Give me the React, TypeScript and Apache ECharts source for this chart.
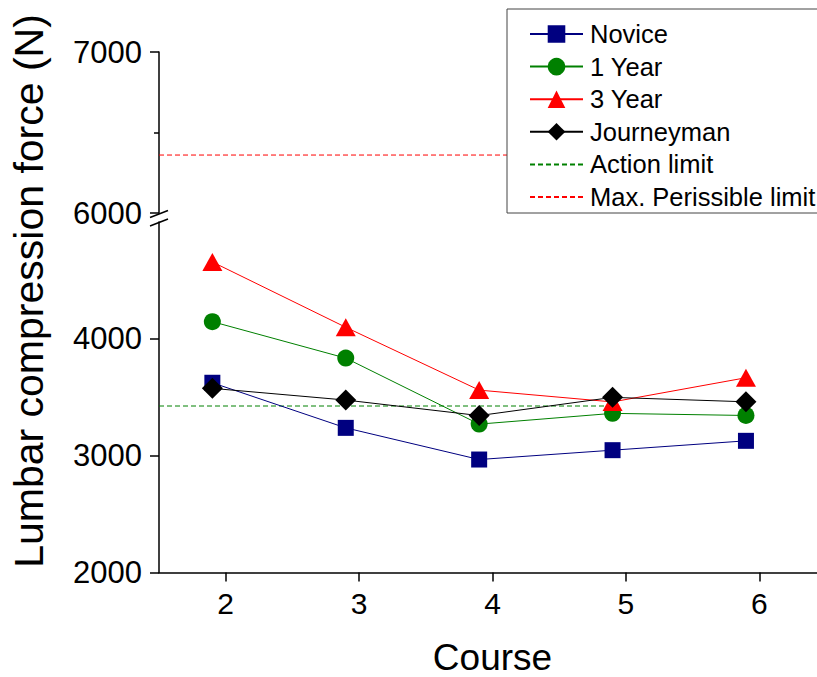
import React, { useEffect, useRef } from "react";
import * as echarts from "echarts";

// Course numbers on the x axis, and the x positions where the means are plotted
const courses = [2, 3, 4, 5, 6];
const pointCourse = [1.9, 2.9, 3.9, 4.9, 5.9];

// Mean lumbar compression force (N) per group
const novice = [3624, 3238, 2967, 3047, 3127];
const oneYear = [4147, 3835, 3270, 3362, 3344];
const threeYear = [4658, 4099, 3561, 3460, 3667];
const journeyman = [3576, 3476, 3343, 3499, 3461];

// Reference limits (N) and the x span each line covers
const actionLimit = 3425;
const actionSpan = [1.5, 4.95];
const maxPermissibleLimit = 6360;
const maxSpan = [1.5, 6.5];

// Axis ranges for the broken y axis
const lowerRange = [2000, 5000];
const lowerTicks = [2000, 3000, 4000];
const upperRange = [6000, 7000];

const FONT = "'Liberation Sans', Arial, sans-serif";

const pairs = (xs: number[], ys: number[]) => xs.map((x, i) => [x, ys[i]]);

export default function App() {
  const ref = useRef<HTMLDivElement>(null);

  useEffect(() => {
    if (!ref.current) return;
    const chart = echarts.init(ref.current, null, { renderer: "svg" });

    const gridLeft = 159;
    const gridWidth = 667;
    const upperTop = 52;
    const upperHeight = 161;
    const lowerTop = 222;
    const lowerHeight = 350.5;

    const markerSeries = (
      name: string,
      values: number[],
      color: string,
      symbol: string,
      symbolSize: number | number[]
    ) => ({
      name,
      type: "line",
      xAxisIndex: 1,
      yAxisIndex: 1,
      data: pairs(pointCourse, values),
      symbol,
      symbolSize,
      showAllSymbol: true,
      lineStyle: { color, width: 1 },
      itemStyle: { color, borderWidth: 0 },
      emphasis: { disabled: true },
    });

    const yAxisCommon = {
      type: "value",
      splitLine: { show: false },
      axisLine: { show: true, onZero: false, lineStyle: { color: "#000", width: 1.5 } },
      axisTick: { show: true, length: 9, lineStyle: { color: "#000", width: 1.5 } },
      axisLabel: {
        color: "#000",
        fontSize: 31,
        fontFamily: FONT,
        margin: 17,
        formatter: (v: number) => String(v),
      },
    };

    chart.setOption({
      animation: false,
      backgroundColor: "#fff",
      grid: [
        {
          left: gridLeft,
          width: gridWidth,
          top: upperTop,
          height: upperHeight,
          containLabel: false,
          outerBoundsMode: "none",
        },
        {
          left: gridLeft,
          width: gridWidth,
          top: lowerTop,
          height: lowerHeight,
          containLabel: false,
          outerBoundsMode: "none",
        },
      ],
      xAxis: [
        { type: "value", gridIndex: 0, min: 1.5, max: 6.5, show: false },
        {
          type: "value",
          gridIndex: 1,
          min: 1.5,
          max: 6.5,
          name: "Course",
          nameLocation: "middle",
          nameGap: 66,
          nameTextStyle: { fontSize: 37, fontFamily: FONT, color: "#000" },
          splitLine: { show: false },
          axisLine: { show: true, onZero: false, lineStyle: { color: "#000", width: 1.5 } },
          axisTick: {
            show: true,
            length: 9,
            customValues: courses,
            lineStyle: { color: "#000", width: 1.5 },
          },
          axisLabel: {
            customValues: courses,
            color: "#000",
            fontSize: 30,
            fontFamily: FONT,
            margin: 16,
          },
        },
      ],
      yAxis: [
        {
          ...yAxisCommon,
          gridIndex: 0,
          min: upperRange[0],
          max: upperRange[1],
          interval: 1000,
          minorTick: { show: true, splitNumber: 2, length: 5, lineStyle: { color: "#000", width: 1.5 } },
        },
        {
          ...yAxisCommon,
          gridIndex: 1,
          min: lowerRange[0],
          max: lowerRange[1],
          interval: 1000,
          axisTick: { ...yAxisCommon.axisTick, customValues: lowerTicks },
          axisLabel: { ...yAxisCommon.axisLabel, customValues: lowerTicks },
        },
      ],
      legend: {
        orient: "vertical",
        left: 507,
        top: 9,
        padding: [12, 30, 3, 22],
        itemWidth: 53,
        itemHeight: 22,
        itemGap: 6.6,
        backgroundColor: "#fff",
        borderColor: "#444",
        borderWidth: 1,
        borderRadius: 0,
        selectedMode: false,
        textStyle: {
          fontSize: 25.5,
          fontFamily: FONT,
          color: "#000",
          lineHeight: 22,
          padding: [0, 0, 0, 2],
        },
        data: [
          { name: "Novice" },
          { name: "1 Year" },
          { name: "3 Year" },
          { name: "Journeyman" },
          { name: "Action limit", itemStyle: { opacity: 0 } },
          { name: "Max. Perissible limit", itemStyle: { opacity: 0 } },
        ],
      },
      graphic: [
        {
          type: "text",
          x: 29,
          y: 291,
          rotation: Math.PI / 2,
          style: {
            text: "Lumbar compression force (N)",
            fontSize: 41,
            fontFamily: FONT,
            fill: "#000",
            textAlign: "center",
            textVerticalAlign: "middle",
            align: "center",
            verticalAlign: "middle",
          },
        },
        {
          type: "line",
          shape: { x1: 150, y1: 217.5, x2: 168, y2: 210.5 },
          style: { stroke: "#000", lineWidth: 1.5 },
        },
        {
          type: "line",
          shape: { x1: 150, y1: 226, x2: 168, y2: 219 },
          style: { stroke: "#000", lineWidth: 1.5 },
        },
      ],
      series: [
        markerSeries("Novice", novice, "#000080", "rect", 16),
        markerSeries("1 Year", oneYear, "#008000", "circle", 17),
        markerSeries("3 Year", threeYear, "#ff0000", "triangle", [20, 18]),
        markerSeries("Journeyman", journeyman, "#000000", "diamond", 21),
        {
          name: "Action limit",
          type: "line",
          xAxisIndex: 1,
          yAxisIndex: 1,
          data: actionSpan.map((x) => [x, actionLimit]),
          symbol: "none",
          lineStyle: { color: "#008000", width: 1, type: [5, 3] },
          itemStyle: { color: "#008000" },
          emphasis: { disabled: true },
          z: 1,
        },
        {
          name: "Max. Perissible limit",
          type: "line",
          xAxisIndex: 0,
          yAxisIndex: 0,
          data: maxSpan.map((x) => [x, maxPermissibleLimit]),
          symbol: "none",
          lineStyle: { color: "#ff0000", width: 1, type: [5, 3] },
          itemStyle: { color: "#ff0000" },
          emphasis: { disabled: true },
          z: 1,
        },
      ],
    });

    return () => chart.dispose();
  }, []);

  return (
    <div
      ref={ref}
      style={{ position: "fixed", left: 0, top: 0, width: 817, height: 677, background: "#fff" }}
    />
  );
}
